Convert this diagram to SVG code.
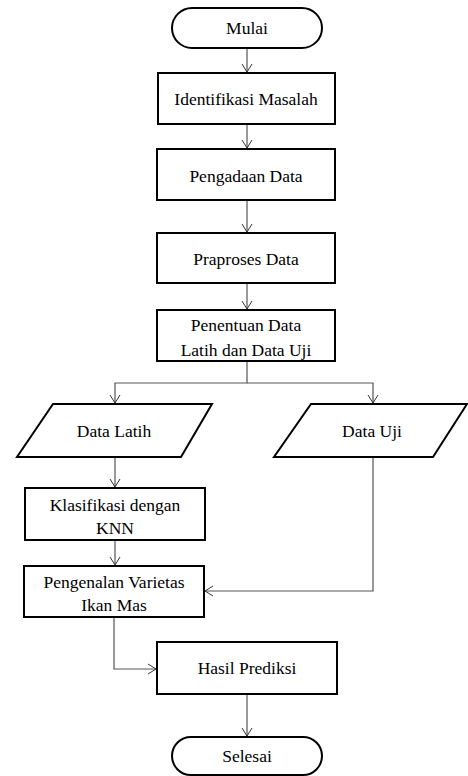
<svg xmlns="http://www.w3.org/2000/svg" width="468" height="776" viewBox="0 0 468 776">
<style>
.n{fill:#fff;stroke:#000;stroke-width:2}
.t{font-family:'Liberation Serif','Times New Roman','DejaVu Serif',serif;font-size:17.5px;fill:#000;text-anchor:middle}
.c{fill:none;stroke:#555;stroke-width:1.2}
</style>
<defs>
<marker id="a" markerWidth="12" markerHeight="12" refX="10" refY="6" orient="auto" markerUnits="userSpaceOnUse">
<path d="M2,1 L10,6 L2,11" fill="none" stroke="#333" stroke-width="1"/>
</marker>
</defs>
<g id="connectors">
<path class="c" d="M247,48 V72" marker-end="url(#a)"/>
<path class="c" d="M247,124 V148" marker-end="url(#a)"/>
<path class="c" d="M247,200 V232" marker-end="url(#a)"/>
<path class="c" d="M247,283 V309" marker-end="url(#a)"/>
<path class="c" d="M247,361 V383 H115 V403" marker-end="url(#a)"/>
<path class="c" d="M247,383 H373 V403" marker-end="url(#a)"/>
<path class="c" d="M115,457 V487" marker-end="url(#a)"/>
<path class="c" d="M115,540 V565" marker-end="url(#a)"/>
<path class="c" d="M373,457 V591 H205" marker-end="url(#a)"/>
<path class="c" d="M114,617 V669 H156" marker-end="url(#a)"/>
<path class="c" d="M247,694 V736" marker-end="url(#a)"/>
</g>
<g id="mulai">
<rect class="n" x="172" y="8" width="150" height="40" rx="20"/>
<text class="t" x="247" y="34">Mulai</text>
</g>
<g id="identifikasi">
<rect class="n" x="158" y="73" width="177" height="51"/>
<text class="t" x="246" y="105">Identifikasi Masalah</text>
</g>
<g id="pengadaan">
<rect class="n" x="157" y="149" width="178" height="51"/>
<text class="t" x="246" y="182">Pengadaan Data</text>
</g>
<g id="praproses">
<rect class="n" x="157" y="233" width="178" height="50"/>
<text class="t" x="246" y="265">Praproses Data</text>
</g>
<g id="penentuan">
<rect class="n" x="157" y="310" width="178" height="51"/>
<text class="t" x="246" y="331">Penentuan Data</text>
<text class="t" x="246" y="356">Latih dan Data Uji</text>
</g>
<g id="datalatih">
<polygon class="n" points="53,404 212,404 181,457 17,457"/>
<text class="t" x="114" y="437">Data Latih</text>
</g>
<g id="datauji">
<polygon class="n" points="311,404 467,404 433,457 274,457"/>
<text class="t" x="372" y="437">Data Uji</text>
</g>
<g id="klasifikasi">
<rect class="n" x="25" y="488" width="180" height="52"/>
<text class="t" x="115" y="511">Klasifikasi dengan</text>
<text class="t" x="115" y="534">KNN</text>
</g>
<g id="pengenalan">
<rect class="n" x="24" y="566" width="180" height="51"/>
<text class="t" x="114" y="588">Pengenalan Varietas</text>
<text class="t" x="114" y="611">Ikan Mas</text>
</g>
<g id="hasil">
<rect class="n" x="157" y="642" width="180" height="52"/>
<text class="t" x="247" y="674">Hasil Prediksi</text>
</g>
<g id="selesai">
<rect class="n" x="172" y="737" width="150" height="38" rx="19"/>
<text class="t" x="247" y="762">Selesai</text>
</g>
</svg>
